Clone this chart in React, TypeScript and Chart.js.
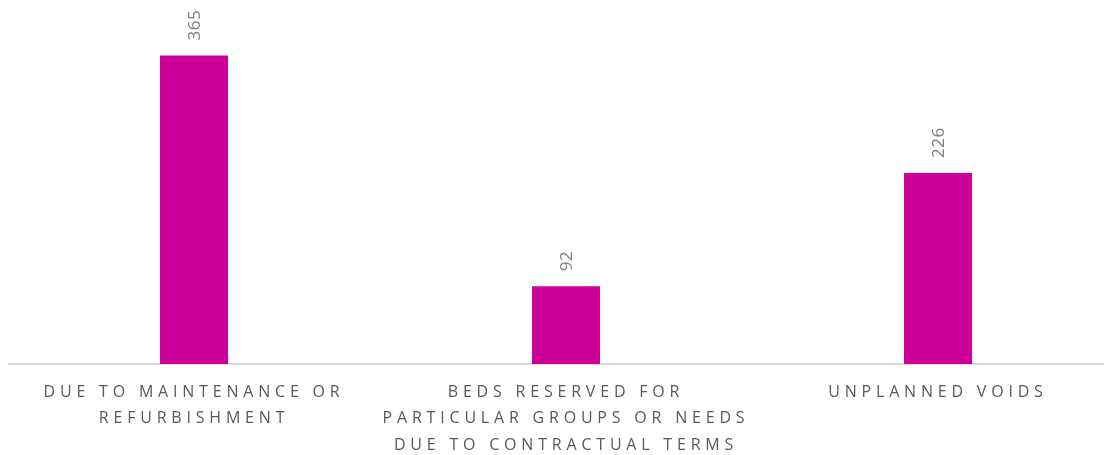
import React, { useEffect, useRef } from "react";
import { Chart, registerables } from "chart.js";

Chart.register(...registerables);

const categories: string[][] = [
  ["DUE TO MAINTENANCE OR", "REFURBISHMENT"],
  ["BEDS RESERVED FOR", "PARTICULAR GROUPS OR NEEDS", "DUE TO CONTRACTUAL TERMS"],
  ["UNPLANNED VOIDS"],
];
const values: number[] = [365, 92, 226];
const yMax = 400;

const BAR_COLOR = "#CC0099";
const LABEL_COLOR = "#595959";
const VALUE_COLOR = "#7F7F7F";
const FONT = "'Open Sans', 'DejaVu Sans', sans-serif";

const letterSpacingPlugin = {
  id: "letterSpacing",
  beforeDraw(chart: any) {
    (chart.ctx as any).letterSpacing = "4.8px";
  },
};

const valueLabelPlugin = {
  id: "valueLabels",
  afterDatasetsDraw(chart: any) {
    const ctx = chart.ctx as CanvasRenderingContext2D;
    const meta = chart.getDatasetMeta(0);
    ctx.save();
    (ctx as any).letterSpacing = "0.6px";
    ctx.font = `17px ${FONT}`;
    ctx.fillStyle = VALUE_COLOR;
    ctx.textAlign = "left";
    ctx.textBaseline = "middle";
    meta.data.forEach((bar: any, i: number) => {
      const v = chart.data.datasets[0].data[i];
      ctx.save();
      ctx.translate(bar.x + 1, bar.y - 15);
      ctx.rotate(-Math.PI / 2);
      ctx.fillText(String(v), 0, 0);
      ctx.restore();
    });
    ctx.restore();
  },
};

export default function App() {
  const ref = useRef<HTMLCanvasElement | null>(null);

  useEffect(() => {
    if (!ref.current) return;
    const chart = new Chart(ref.current, {
      type: "bar",
      data: {
        labels: categories,
        datasets: [
          {
            data: values,
            backgroundColor: BAR_COLOR,
            borderWidth: 0,
            categoryPercentage: 1,
            barPercentage: 0.183,
          },
        ],
      },
      options: {
        animation: false,
        responsive: false,
        maintainAspectRatio: false,
        layout: { padding: { top: 18, left: 0, right: 0, bottom: 0 } },
        plugins: {
          legend: { display: false },
          tooltip: { enabled: false },
        },
        scales: {
          x: {
            grid: { display: false, drawTicks: false },
            border: { display: true, color: "#D9D9D9", width: 2 },
            ticks: {
              color: LABEL_COLOR,
              padding: 15,
              maxRotation: 0,
              autoSkip: false,
              font: { family: FONT, size: 16, lineHeight: 1.65 },
            },
            afterFit(scale: any) {
              scale.height = 91;
            },
          },
          y: {
            display: false,
            min: 0,
            max: yMax,
          },
        },
      },
      plugins: [letterSpacingPlugin, valueLabelPlugin],
    });
    return () => chart.destroy();
  }, []);

  return (
    <div style={{ width: 1104, height: 447, overflow: "hidden" }}>
      <canvas ref={ref} width={1116} height={447} style={{ display: "block", width: 1116, height: 447 }} />
    </div>
  );
}
